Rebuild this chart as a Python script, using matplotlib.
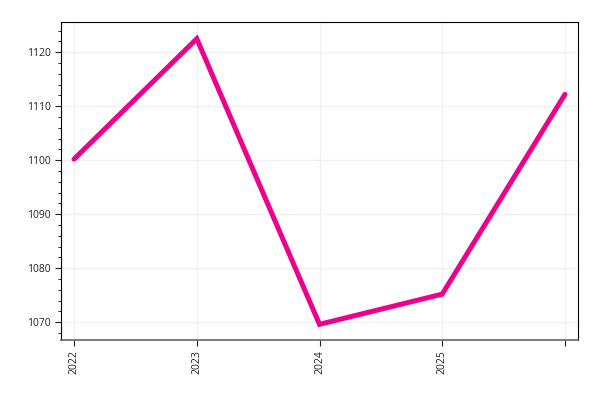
import matplotlib.pyplot as plt
from matplotlib.ticker import MultipleLocator

plt.rcParams['font.family'] = "sans-serif"
plt.rcParams['font.sans-serif'] = "Open Sans"

anios = ['2022', '2023', '2024', '2025', '']
valores = [1100.2, 1122.5, 1069.6, 1075.2, 1112.2]

fig = plt.figure(figsize=(6, 4), dpi=100)
ax = fig.add_axes([0.1017, 0.15, 0.8616, 0.795])

x = list(range(len(anios)))
ax.plot(x, valores, color='#ec008c', linewidth=3.6, solid_capstyle='round',
        solid_joinstyle='miter', zorder=3)

ax.set_xlim(-0.106, 4.106)
ax.set_ylim(1066.7, 1125.6)
ax.set_xticks(x)
ax.set_xticklabels(anios, rotation=90)
ax.yaxis.set_major_locator(MultipleLocator(10))
ax.yaxis.set_minor_locator(MultipleLocator(2))

ax.grid(True, color='#f0f0f0', linewidth=1)
ax.tick_params(labelsize=7.5, colors='#222222', length=4)
ax.tick_params(axis='y', which='minor', length=2.5)
ax.spines['bottom'].set_color('#666666')
ax.spines['bottom'].set_linewidth(1.2)

fig.savefig('out.png', dpi=100)
